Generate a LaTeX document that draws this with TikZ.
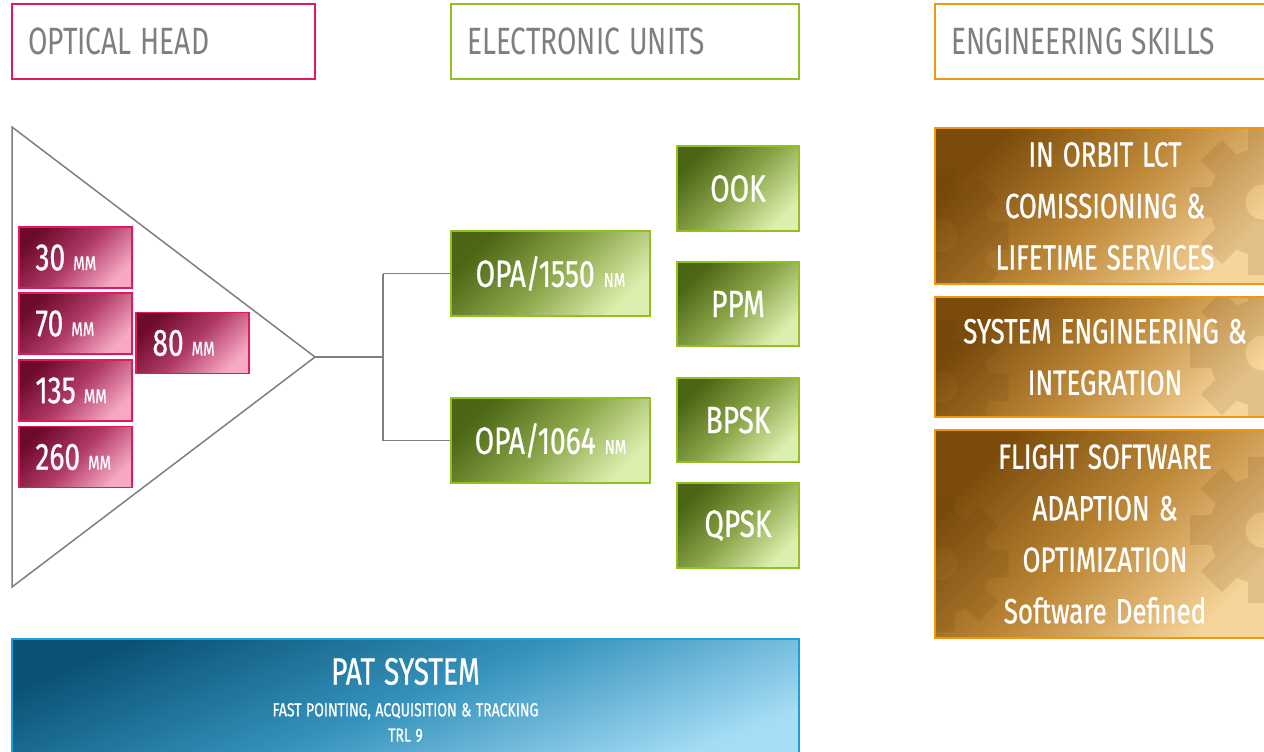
\documentclass[tikz,border=0pt]{standalone}
\usepackage{fontspec}
\newfontfamily\fut[FakeStretch=0.74, FakeBold=0.7]{Fira Sans}
\newfontfamily\futl[FakeStretch=0.74]{Fira Sans}
\definecolor{hdrgray}{HTML}{7F7F7F}
\definecolor{pinkB}{HTML}{E5175D}
\definecolor{pinkD}{HTML}{6E0A2E}
\definecolor{pinkM}{HTML}{B03A66}
\definecolor{pinkL}{HTML}{F7A8C4}
\definecolor{grnB}{HTML}{92C020}
\definecolor{grnD}{HTML}{4B6614}
\definecolor{grnM}{HTML}{8AA548}
\definecolor{grnL}{HTML}{DCEFAE}
\definecolor{orgB}{HTML}{F0960F}
\definecolor{orgD}{HTML}{7A4B0A}
\definecolor{orgM}{HTML}{BE8838}
\definecolor{orgL}{HTML}{F6D49A}
\definecolor{bluB}{HTML}{1E9FD8}
\definecolor{bluD}{HTML}{0A5275}
\definecolor{bluM}{HTML}{3592BC}
\definecolor{bluL}{HTML}{A6DDF5}
\definecolor{gearc}{HTML}{5A3505}
\newcommand\unitsm[1]{{\fontsize{20}{20}\selectfont #1}}
\newcommand\patbig{\fontsize{38}{38}\selectfont\spaceskip=9pt\relax}
\newcommand\patsmall{\fontsize{19}{19}\selectfont\spaceskip=4.5pt\relax}
\tikzset{
  gear/.pic={
    \begin{scope}[transparency group, opacity=0.12]
      \fill[gearc, even odd rule] (0,0) circle (40) (0,0) circle (13);
      \foreach \a in {0,45,...,315}{\fill[gearc, rotate=\a] (-11,-36) rectangle (11,-54);}
    \end{scope}
  },
  sp/.style={execute at begin node={\spaceskip=#1\relax}},
  hdr/.style={draw, line width=1.5pt, fill=white, minimum height=75pt, inner xsep=16pt,
    inner ysep=0pt, align=left, text=hdrgray,
    font=\futl\fontsize{38}{38}\selectfont, sp=9pt},
  pinkbox/.style={draw=pinkB, line width=1.5pt, top color=pinkD, bottom color=pinkL,
    middle color=pinkM, shading angle=45, minimum height=61pt, inner xsep=16.5pt,
    inner ysep=0pt, text width=80pt, align=left, text=white,
    font=\fut\fontsize{38}{38}\selectfont, sp=8pt},
  grnbox/.style={draw=grnB, line width=1.5pt, top color=grnD, bottom color=grnL,
    middle color=grnM, shading angle=45, inner sep=0pt, text=white,
    font=\fut\fontsize{38}{38}\selectfont, sp=9pt},
  orgbox/.style={draw=orgB, line width=1.5pt, top color=orgD, bottom color=orgL,
    middle color=orgM, shading angle=45, inner sep=0pt, minimum width=340pt,
    text=white, align=center, font=\fut\fontsize{35}{51.5}\selectfont, sp=9pt,
    path picture={
      \pic[scale=1.25] at ([xshift=6pt,yshift=-30pt]path picture bounding box.west) {gear};
      \pic[scale=1.35] at ([xshift=-12pt,yshift=4pt]path picture bounding box.east) {gear};
    }},
  conn/.style={draw=hdrgray, line width=1.5pt},
}
\begin{document}
\begin{tikzpicture}[x=1pt,y=-1pt]
\useasboundingbox (0,0) rectangle (1264,752);
\clip (0,0) rectangle (1264,752);

% headers
\node[hdr, draw=pinkB, text width=271pt] (hOpt) at (163.5,41.5) {OPTICAL HEAD};
\node[hdr, draw=grnB, text width=316pt] (hElec) at (625,41.5) {ELECTRONIC UNITS};
\node[hdr, draw=orgB, text width=308pt] (hEng) at (1105,41.5) {ENGINEERING SKILLS};

% optical head triangle
\coordinate (apex) at (315,357);
\draw[conn] (12,127) -- (apex) -- (12,587) -- cycle;

\node[pinkbox] (p30) at (75.5,257.5) {30 \unitsm{MM}};
\node[pinkbox] (p70) at (75.5,323.5) {70 \unitsm{MM}};
\node[pinkbox] (p135) at (75.5,390.5) {135 \unitsm{MM}};
\node[pinkbox] (p260) at (75.5,457) {260 \unitsm{MM}};
\node[pinkbox] (p80) at (192.5,343) {80 \unitsm{MM}};

% electronic units
\node[grnbox, minimum width=199pt, minimum height=85pt] (opa1) at (550.5,273.5) {OPA/1550 \unitsm{NM}};
\node[grnbox, minimum width=199pt, minimum height=85pt] (opa2) at (550.5,440.5) {OPA/1064 \unitsm{NM}};
\node[grnbox, minimum width=122pt, minimum height=85pt] (ook) at (738,188.5) {OOK};
\node[grnbox, minimum width=122pt, minimum height=84pt] (ppm) at (738,304) {PPM};
\node[grnbox, minimum width=122pt, minimum height=84pt] (bpsk) at (738,420) {BPSK};
\node[grnbox, minimum width=122pt, minimum height=85pt] (qpsk) at (738,525.5) {QPSK};

\coordinate (jn) at (383,357);
\draw[conn] (apex) -- (jn);
\draw[conn] (jn |- opa1.west) -- (jn |- opa2.west);
\draw[conn] (jn |- opa1.west) -- (opa1.west);
\draw[conn] (jn |- opa2.west) -- (opa2.west);

% engineering skills
\node[orgbox, minimum height=156pt] (eng1) at (1105,206) {IN ORBIT LCT\\COMISSIONING \&\\LIFETIME SERVICES};
\node[orgbox, minimum height=120pt] (eng2) at (1105,357) {SYSTEM ENGINEERING \&\\INTEGRATION};
\node[orgbox, minimum height=208pt] (eng3) at (1105,534) {FLIGHT SOFTWARE\\ADAPTION \&\\OPTIMIZATION\\Software Defined};

% PAT system
\node[draw=bluB, line width=1.5pt, top color=bluD, bottom color=bluL, middle color=bluM,
  shading angle=22, minimum width=787pt, minimum height=122pt, inner sep=0pt,
  text=white, align=center, font=\fut] (pat) at (405.5,700)
  {\patbig PAT SYSTEM\\[17pt] \patsmall FAST POINTING, ACQUISITION \& TRACKING\\[8pt] \patsmall TRL 9};
\end{tikzpicture}
\end{document}
